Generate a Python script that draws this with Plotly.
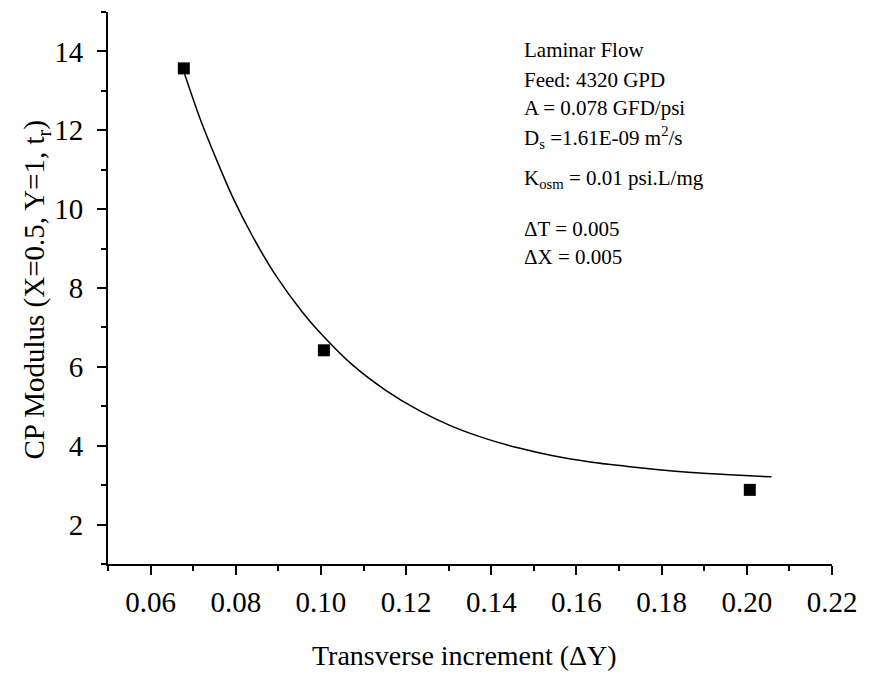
import plotly.graph_objects as go

# Data points
dy_points = [0.0678, 0.1007, 0.2007]
cp_points = [13.57, 6.42, 2.88]

# Fitted curve
curve_x = [0.0680, 0.0716, 0.0755, 0.0793, 0.0840, 0.0895, 0.0957, 0.0997,
           0.1074, 0.1153, 0.1231, 0.1308, 0.1387, 0.1465, 0.1542, 0.1636,
           0.1715, 0.1793, 0.1870, 0.1949, 0.2058]
curve_y = [13.42, 12.30, 11.25, 10.30, 9.30, 8.30, 7.38, 6.88,
           6.05, 5.40, 4.89, 4.49, 4.18, 3.94, 3.75, 3.58,
           3.48, 3.39, 3.32, 3.27, 3.21]

info_lines = [
    "Laminar Flow",
    "Feed: 4320 GPD",
    "A = 0.078 GFD/psi",
    "D<sub>s</sub> =1.61E-09 m<sup>2</sup>/s",
    "K<sub>osm</sub> = 0.01 psi.L/mg",
    "\u0394T = 0.005",
    "\u0394X = 0.005",
]
info_ypix = [50, 80, 108, 137, 179, 229, 257]

FONT = "Liberation Serif"

fig = go.Figure()
fig.add_trace(go.Scatter(x=curve_x, y=curve_y, mode="lines",
                         line=dict(color="black", width=1.5, shape="spline", smoothing=0.8),
                         hoverinfo="skip", showlegend=False))
fig.add_trace(go.Scatter(x=dy_points, y=cp_points, mode="markers",
                         marker=dict(symbol="square", size=12, color="black"),
                         showlegend=False))

L, R, T, B = 108, 32, 12, 111
W, H = 869, 675
plot_h = H - T - B
plot_w = W - L - R

def axis(**kw):
    d = dict(showline=True, linecolor="black", linewidth=2,
             ticks="outside", ticklen=9, tickwidth=2, tickcolor="black",
             showgrid=False, zeroline=False, mirror=False,
             tickfont=dict(family=FONT, size=29, color="black"))
    d.update(kw)
    return d

xaxis = axis(range=[0.05, 0.22], tick0=0.06, dtick=0.02, tickformat=".2f",
             ticklabelstandoff=2,
             minor=dict(dtick=0.01, tick0=0.05, ticks="outside", ticklen=5,
                        tickwidth=2, tickcolor="black", showgrid=False))
yaxis = axis(range=[1, 15], tick0=0, dtick=2, ticklabelstandoff=8,
             minor=dict(dtick=1, tick0=1, ticks="outside", ticklen=5,
                        tickwidth=2, tickcolor="black", showgrid=False))

annotations = []
for txt, py in zip(info_lines, info_ypix):
    annotations.append(dict(text=txt, xref="paper", yref="paper",
                            x=(525 - L) / plot_w, y=(H - B - py) / plot_h,
                            xanchor="left", yanchor="middle", showarrow=False,
                            font=dict(family=FONT, size=21, color="black")))
annotations.append(dict(text="Transverse increment (\u0394Y)", xref="paper", yref="paper",
                        x=(467 - L) / plot_w, y=(H - B - 655) / plot_h,
                        xanchor="center", yanchor="middle", showarrow=False,
                        font=dict(family=FONT, size=28, color="black")))
annotations.append(dict(text="CP Modulus (X=0.5, Y=1, t<sub>r</sub>)", xref="paper", yref="paper",
                        x=(36 - L) / plot_w, y=(H - B - 290) / plot_h, textangle=-90,
                        xanchor="center", yanchor="middle", showarrow=False,
                        font=dict(family=FONT, size=29, color="black")))

fig.update_layout(width=W, height=H, margin=dict(l=L, r=R, t=T, b=B),
                  paper_bgcolor="white", plot_bgcolor="white",
                  showlegend=False, annotations=annotations,
                  xaxis=xaxis, yaxis=yaxis,
                  font=dict(family=FONT, color="black"))

fig.write_html("out.html")
